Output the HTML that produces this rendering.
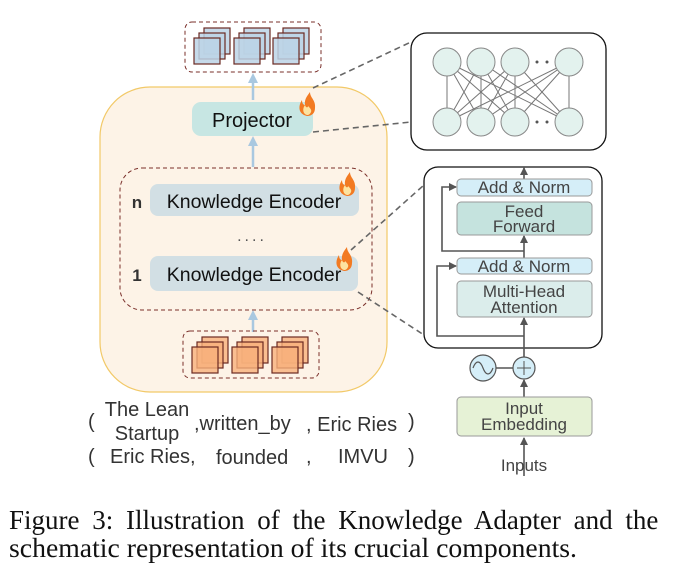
<!DOCTYPE html>
<html><head><meta charset="utf-8"><style>body{margin:0;background:#fff}svg{display:block}</style></head><body>
<svg width="676" height="584" viewBox="0 0 676 584" xmlns="http://www.w3.org/2000/svg" font-family="Liberation Sans, sans-serif">
<defs>
<marker id="ab" markerUnits="userSpaceOnUse" markerWidth="10" markerHeight="10" refX="6" refY="5" orient="auto"><path d="M0,0 L10,5 L0,10 z" fill="#a9c8e0"/></marker>
<marker id="ak" markerUnits="userSpaceOnUse" markerWidth="8" markerHeight="8" refX="7" refY="4" orient="auto"><path d="M0,0 L8,4 L0,8 z" fill="#555"/></marker>
<g id="flame"><path d="M0,12 C-9,10 -9,2 -5,-4 C-5,0 -3,1 -2,1 C-3,-5 1,-9 3,-12 C3,-6 9,-4 8,4 C8,9 5,12 0,12 z" fill="#f27a22"/><path d="M0,11 C-4,10 -5,5 -2,1 C-1,4 1,4 1,2 C3,4 5,6 4,8 C3,10 2,11 0,11 z" fill="#fde3a0"/></g>
</defs>
<rect x="100" y="87" width="287" height="305" rx="50" fill="#fdf3e7" stroke="#f2c968" stroke-width="1.2"/>
<rect x="185" y="22" width="136" height="50" rx="7" fill="none" stroke="#7a2f2a" stroke-dasharray="4,3"/>
<g stroke="#6b2a22" stroke-width="1.2" fill="#bcd3e6" fill-opacity="0.85">
<rect x="204" y="28" width="26" height="26"/><rect x="199" y="33" width="26" height="26"/><rect x="194" y="38" width="26" height="26"/>
<rect x="244" y="28" width="26" height="26"/><rect x="239" y="33" width="26" height="26"/><rect x="234" y="38" width="26" height="26"/>
<rect x="283" y="28" width="26" height="26"/><rect x="278" y="33" width="26" height="26"/><rect x="273" y="38" width="26" height="26"/>
</g>
<line x1="253" y1="100" x2="253" y2="77" stroke="#a9c8e0" stroke-width="2.5" marker-end="url(#ab)"/>
<rect x="192" y="102" width="121" height="34" rx="9" fill="#c7e6e3"/>
<text x="252" y="127" font-size="20" text-anchor="middle" fill="#111">Projector</text>
<use href="#flame" x="307" y="104"/>
<line x1="253" y1="167" x2="253" y2="140" stroke="#a9c8e0" stroke-width="2.5" marker-end="url(#ab)"/>
<rect x="120" y="168" width="252" height="142" rx="22" fill="none" stroke="#7a2f2a" stroke-dasharray="4,3"/>
<rect x="150" y="184" width="209" height="32" rx="8" fill="#d2dfe4"/>
<text x="254" y="208" font-size="19.5" text-anchor="middle" fill="#111">Knowledge Encoder</text>
<text x="137" y="208" font-size="17" font-weight="bold" text-anchor="middle" fill="#333">n</text>
<use href="#flame" x="347" y="184"/>
<text x="252" y="241" font-size="16" text-anchor="middle" fill="#555" letter-spacing="3">....</text>
<rect x="150" y="256" width="208" height="35" rx="8" fill="#d2dfe4"/>
<text x="254" y="281" font-size="19.5" text-anchor="middle" fill="#111">Knowledge Encoder</text>
<text x="137" y="281" font-size="17" font-weight="bold" text-anchor="middle" fill="#333">1</text>
<use href="#flame" x="344" y="259"/>
<line x1="253" y1="332" x2="253" y2="314" stroke="#a9c8e0" stroke-width="2.5" marker-end="url(#ab)"/>
<rect x="183" y="331" width="136" height="47" rx="7" fill="none" stroke="#7a2f2a" stroke-dasharray="4,3"/>
<g stroke="#6b2a22" stroke-width="1.2" fill="#f7b07c" fill-opacity="0.8">
<rect x="202" y="337" width="26" height="26"/><rect x="197" y="342" width="26" height="26"/><rect x="192" y="347" width="26" height="26"/>
<rect x="242" y="337" width="26" height="26"/><rect x="237" y="342" width="26" height="26"/><rect x="232" y="347" width="26" height="26"/>
<rect x="282" y="337" width="26" height="26"/><rect x="277" y="342" width="26" height="26"/><rect x="272" y="347" width="26" height="26"/>
</g>
<g font-size="20" fill="#333">
<text x="88" y="428">(</text>
<text x="147" y="416" text-anchor="middle">The Lean</text>
<text x="147" y="440" text-anchor="middle">Startup</text>
<text x="194" y="430">,written_by</text>
<text x="306" y="431">, Eric Ries</text>
<text x="408" y="428">)</text>
<text x="88" y="463">(</text>
<text x="110" y="463">Eric Ries,</text>
<text x="216" y="464">founded</text>
<text x="306" y="463">,</text>
<text x="338" y="463">IMVU</text>
<text x="408" y="463">)</text>
</g>
<g stroke="#666" stroke-width="1.6" stroke-dasharray="6,4" fill="none">
<line x1="313" y1="88" x2="411" y2="42"/>
<line x1="313" y1="132" x2="411" y2="122"/>
<line x1="351" y1="250" x2="424" y2="185"/>
<line x1="358" y1="292" x2="424" y2="335"/>
</g>
<rect x="411" y="33" width="195" height="117" rx="16" fill="#fff" stroke="#111" stroke-width="1.3"/>
<g stroke="#777" stroke-width="1">
<line x1="447" y1="62" x2="447" y2="122"/><line x1="447" y1="62" x2="481" y2="122"/><line x1="447" y1="62" x2="515" y2="122"/><line x1="447" y1="62" x2="569" y2="122"/>
<line x1="481" y1="62" x2="447" y2="122"/><line x1="481" y1="62" x2="481" y2="122"/><line x1="481" y1="62" x2="515" y2="122"/><line x1="481" y1="62" x2="569" y2="122"/>
<line x1="515" y1="62" x2="447" y2="122"/><line x1="515" y1="62" x2="481" y2="122"/><line x1="515" y1="62" x2="515" y2="122"/><line x1="515" y1="62" x2="569" y2="122"/>
<line x1="569" y1="62" x2="447" y2="122"/><line x1="569" y1="62" x2="481" y2="122"/><line x1="569" y1="62" x2="515" y2="122"/><line x1="569" y1="62" x2="569" y2="122"/>
</g>
<g fill="#e3f2ee" stroke="#888" stroke-width="1">
<circle cx="447" cy="62" r="14"/><circle cx="481" cy="62" r="14"/><circle cx="515" cy="62" r="14"/><circle cx="569" cy="62" r="14"/>
<circle cx="447" cy="122" r="14"/><circle cx="481" cy="122" r="14"/><circle cx="515" cy="122" r="14"/><circle cx="569" cy="122" r="14"/>
</g>
<g fill="#555"><circle cx="537" cy="62" r="1.5"/><circle cx="547" cy="62" r="1.5"/><circle cx="537" cy="122" r="1.5"/><circle cx="547" cy="122" r="1.5"/></g>
<rect x="424" y="167" width="178" height="181" rx="14" fill="#fff" stroke="#111" stroke-width="1.3"/>
<g stroke="#555" stroke-width="1.6" fill="none">
<line x1="524" y1="476" x2="524" y2="438" marker-end="url(#ak)"/>
<line x1="524" y1="397" x2="524" y2="380" marker-end="url(#ak)"/>
<line x1="524" y1="357" x2="524" y2="318" marker-end="url(#ak)"/>
<polyline points="524,336 437,336 437,266 456,266" marker-end="url(#ak)"/>
<line x1="524" y1="258" x2="524" y2="236" marker-end="url(#ak)"/>
<polyline points="524,251 442,251 442,187 456,187" marker-end="url(#ak)"/>
<line x1="524" y1="179" x2="524" y2="168" marker-end="url(#ak)"/>
<line x1="496" y1="368" x2="513" y2="368"/>
</g>
<rect x="457" y="179" width="135" height="17" rx="4" fill="#d5eef8" stroke="#999"/>
<text x="524" y="193" font-size="17" text-anchor="middle" fill="#444">Add &amp; Norm</text>
<rect x="457" y="202" width="135" height="33" rx="4" fill="#c5e3de" stroke="#999"/>
<text x="524" y="217" font-size="17" text-anchor="middle" fill="#444">Feed</text>
<text x="524" y="232" font-size="17" text-anchor="middle" fill="#444">Forward</text>
<rect x="457" y="258" width="135" height="16" rx="4" fill="#d5eef8" stroke="#999"/>
<text x="524" y="272" font-size="17" text-anchor="middle" fill="#444">Add &amp; Norm</text>
<rect x="457" y="281" width="135" height="36" rx="4" fill="#dbedeb" stroke="#999"/>
<text x="524" y="297" font-size="17" text-anchor="middle" fill="#444">Multi-Head</text>
<text x="524" y="313" font-size="17" text-anchor="middle" fill="#444">Attention</text>
<circle cx="483" cy="368" r="13" fill="#d5eef8" stroke="#555" stroke-width="1.2"/>
<path d="M473,368 C476,360 480,360 483,368 C486,376 490,376 493,368" fill="none" stroke="#555" stroke-width="1.2"/>
<circle cx="524" cy="368" r="11" fill="#d5eef8" stroke="#555" stroke-width="1.2"/>
<path d="M517,368 H531 M524,361 V375" stroke="#555" stroke-width="1"/>
<rect x="457" y="397" width="135" height="39" rx="4" fill="#e6f2d6" stroke="#999"/>
<text x="524" y="414" font-size="17" text-anchor="middle" fill="#444">Input</text>
<text x="524" y="430" font-size="17" text-anchor="middle" fill="#444">Embedding</text>
<text x="524" y="471" font-size="17" text-anchor="middle" fill="#444">Inputs</text>
<g font-family="Liberation Serif, serif" font-size="27" fill="#111">
<text x="9" y="529" word-spacing="6">Figure 3: Illustration of the Knowledge Adapter and the</text>
<text x="9" y="557" textLength="568" lengthAdjust="spacingAndGlyphs">schematic representation of its crucial components.</text>
</g>
</svg>
</body></html>
